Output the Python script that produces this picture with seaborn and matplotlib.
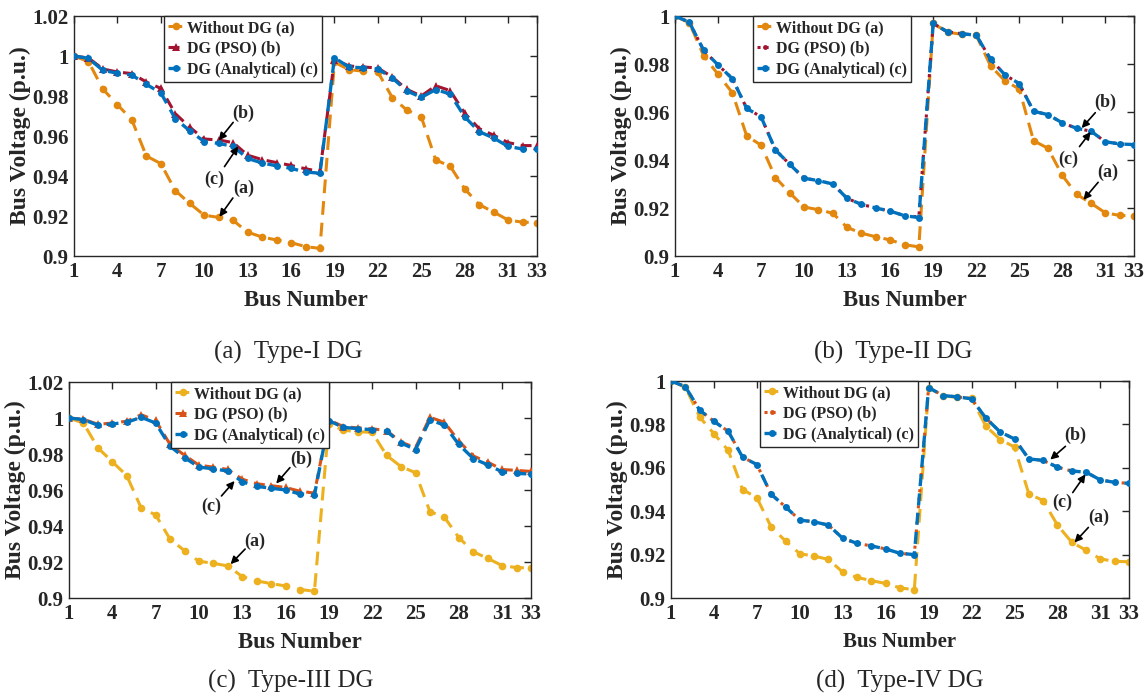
import matplotlib
matplotlib.use("Agg")
import matplotlib.pyplot as plt
import numpy as np
import pandas as pd
import seaborn as sns
from matplotlib.ticker import FuncFormatter

# ---------------------------------------------------------------- data
bus = list(range(1, 34))

v_base = [1.0000, 0.9972, 0.9834, 0.9757, 0.9680, 0.9500, 0.9462, 0.9327, 0.9263, 0.9204,
          0.9193, 0.9178, 0.9119, 0.9095, 0.9080, 0.9067, 0.9047, 0.9038, 0.9969, 0.9932,
          0.9924, 0.9920, 0.9792, 0.9730, 0.9696, 0.9480, 0.9449, 0.9336, 0.9257, 0.9220,
          0.9180, 0.9169, 0.9167]

# Type-I DG
v1_pso = [1.0000, 0.9990, 0.9935, 0.9920, 0.9912, 0.9870, 0.9838, 0.9712, 0.9644, 0.9585,
          0.9580, 0.9567, 0.9504, 0.9482, 0.9467, 0.9453, 0.9436, 0.9423, 0.9982, 0.9950,
          0.9945, 0.9940, 0.9895, 0.9833, 0.9800, 0.9851, 0.9827, 0.9714, 0.9637, 0.9604,
          0.9567, 0.9552, 0.9552]
v1_ana = [1.0000, 0.9988, 0.9928, 0.9914, 0.9905, 0.9858, 0.9816, 0.9687, 0.9626, 0.9572,
          0.9563, 0.9548, 0.9488, 0.9465, 0.9451, 0.9438, 0.9420, 0.9414, 0.9991, 0.9945,
          0.9941, 0.9935, 0.9890, 0.9826, 0.9793, 0.9832, 0.9810, 0.9696, 0.9622, 0.9590,
          0.9548, 0.9535, 0.9535]

# Type-II DG
v2_pso = [1.0000, 0.9974, 0.9857, 0.9796, 0.9739, 0.9615, 0.9580, 0.9442, 0.9382, 0.9324,
          0.9314, 0.9300, 0.9240, 0.9215, 0.9200, 0.9187, 0.9168, 0.9163, 0.9969, 0.9934,
          0.9926, 0.9920, 0.9820, 0.9755, 0.9718, 0.9603, 0.9589, 0.9555, 0.9532, 0.9520,
          0.9476, 0.9467, 0.9464]
v2_ana = [1.0000, 0.9974, 0.9857, 0.9796, 0.9739, 0.9615, 0.9580, 0.9442, 0.9382, 0.9324,
          0.9314, 0.9300, 0.9240, 0.9215, 0.9200, 0.9187, 0.9168, 0.9160, 0.9969, 0.9934,
          0.9926, 0.9920, 0.9820, 0.9755, 0.9718, 0.9603, 0.9589, 0.9555, 0.9532, 0.9520,
          0.9476, 0.9467, 0.9464]

# Type-III DG
v3_pso = [1.0000, 0.9993, 0.9965, 0.9972, 0.9982, 1.0018, 0.9987, 0.9853, 0.9793, 0.9738,
          0.9727, 0.9714, 0.9660, 0.9635, 0.9624, 0.9614, 0.9593, 0.9583, 0.9990, 0.9952,
          0.9945, 0.9940, 0.9930, 0.9866, 0.9835, 1.0004, 0.9976, 0.9872, 0.9789, 0.9755,
          0.9714, 0.9709, 0.9703]
v3_ana = [1.0000, 0.9991, 0.9960, 0.9967, 0.9976, 1.0004, 0.9972, 0.9843, 0.9780, 0.9727,
          0.9718, 0.9705, 0.9646, 0.9620, 0.9610, 0.9600, 0.9578, 0.9572, 0.9985, 0.9948,
          0.9941, 0.9935, 0.9926, 0.9861, 0.9825, 0.9990, 0.9960, 0.9853, 0.9775, 0.9740,
          0.9701, 0.9692, 0.9689]

# Type-IV DG
v4_pso = [1.0000, 0.9974, 0.9866, 0.9814, 0.9768, 0.9649, 0.9615, 0.9478, 0.9420, 0.9359,
          0.9351, 0.9336, 0.9275, 0.9252, 0.9240, 0.9226, 0.9206, 0.9200, 0.9970, 0.9933,
          0.9927, 0.9918, 0.9829, 0.9765, 0.9733, 0.9641, 0.9634, 0.9603, 0.9585, 0.9580,
          0.9544, 0.9533, 0.9528]
v4_ana = [1.0000, 0.9974, 0.9866, 0.9814, 0.9768, 0.9649, 0.9615, 0.9478, 0.9420, 0.9359,
          0.9351, 0.9336, 0.9275, 0.9252, 0.9240, 0.9226, 0.9206, 0.9200, 0.9970, 0.9933,
          0.9927, 0.9918, 0.9829, 0.9765, 0.9733, 0.9641, 0.9634, 0.9603, 0.9585, 0.9580,
          0.9544, 0.9533, 0.9528]

series_labels = ["Without DG (a)", "DG (PSO) (b)", "DG (Analytical) (c)"]
captions = ["(a)  Type-I DG", "(b)  Type-II DG", "(c)  Type-III DG", "(d)  Type-IV DG"]
x_ticks = [1, 4, 7, 10, 13, 16, 19, 22, 25, 28, 31, 33]

# ---------------------------------------------------------------- style
sns.set_theme(style="white")
plt.rcParams["font.family"] = ["Liberation Serif", "DejaVu Serif"]

ORANGE = "#E3880F"
DARKRED = "#A2142F"
YELLOW = "#EDB120"
REDORANGE = "#D95319"
BLUE = "#0072BD"

DASH_BASE = (0, (4.5, 2.6))
DASH_DG = (0, (3.6, 2.2))

fig = plt.figure(figsize=(11.44, 6.97), dpi=100)

W, H = 1144, 697


def px_axes(l, r, t, b):
    return fig.add_axes([l / W, 1 - b / H, (r - l) / W, (b - t) / H])


panels = [
    dict(box=(74, 537, 16, 256), ylim=(0.9, 1.02), base=v_base, pso=v1_pso, ana=v1_ana,
         c_base=ORANGE, c_pso=DARKRED, pso_ls=DASH_DG, pso_mk="^", leg=(0.195, 1.0),
         ann=[("(b)", (12.7, 0.9712), (12.0, 0.9668), (11.0, 0.9578)),
              ("(c)", (10.7, 0.9382), (11.4, 0.9447), (12.35, 0.9548)),
              ("(a)", (12.75, 0.9336), (11.98, 0.9290), (11.05, 0.9196))],
         xl_size=16.5, cap=(288, 352)),
    dict(box=(675, 1134, 16, 256), ylim=(0.9, 1.0), base=v_base, pso=v2_pso, ana=v2_ana,
         c_base=ORANGE, c_pso=DARKRED, pso_ls=":", pso_mk=".", leg=(0.170, 1.0),
         ann=[("(b)", (31.0, 0.9640), (30.3, 0.9597), (29.35, 0.9533)),
              ("(c)", (28.45, 0.9402), (29.2, 0.9456), (29.98, 0.9517)),
              ("(a)", (31.2, 0.9348), (30.5, 0.9307), (29.47, 0.9234))],
         xl_size=16.5, cap=(893, 352)),
    dict(box=(69, 531, 382, 598), ylim=(0.9, 1.02), base=v_base, pso=v3_pso, ana=v3_ana,
         c_base=YELLOW, c_pso=REDORANGE, pso_ls=DASH_DG, pso_mk="^", leg=(0.220, 1.0),
         ann=[("(b)", (17.08, 0.9770), (16.3, 0.9724), (15.35, 0.9636)),
              ("(c)", (10.87, 0.9508), (11.56, 0.9567), (12.47, 0.9650)),
              ("(a)", (13.9, 0.9312), (13.2, 0.9272), (12.19, 0.9188))],
         xl_size=16.5, cap=(291, 681)),
    dict(box=(671, 1129, 381, 598), ylim=(0.9, 1.0), base=v_base, pso=v4_pso, ana=v4_ana,
         c_base=YELLOW, c_pso=REDORANGE, pso_ls=":", pso_mk=".", leg=(0.195, 1.0),
         ann=[("(b)", (29.27, 0.9750), (28.56, 0.9699), (27.5, 0.9638)),
              ("(c)", (28.35, 0.9440), (29.07, 0.9486), (29.96, 0.9570)),
              ("(a)", (30.9, 0.9371), (30.16, 0.9325), (29.19, 0.9256))],
         xl_size=15, cap=(900, 681)),
]

fmt = FuncFormatter(lambda v, _: f"{v:g}")

for p, caption in zip(panels, captions):
    ax = px_axes(*p["box"])
    df = pd.DataFrame({"bus": bus, "base": p["base"], "pso": p["pso"], "ana": p["ana"]})

    sns.lineplot(data=df, x="bus", y="base", ax=ax, color=p["c_base"], linestyle=DASH_BASE,
                 linewidth=2.2, marker=".", markersize=11, markeredgewidth=0,
                 label=series_labels[0], zorder=2)
    sns.lineplot(data=df, x="bus", y="pso", ax=ax, color=p["c_pso"], linestyle=p["pso_ls"],
                 linewidth=2.2, marker=p["pso_mk"],
                 markersize=6 if p["pso_mk"] == "^" else 7, markeredgewidth=0,
                 label=series_labels[1], zorder=3)
    sns.lineplot(data=df, x="bus", y="ana", ax=ax, color=BLUE, linestyle=DASH_DG,
                 linewidth=2.4, marker="o", markersize=5, markeredgewidth=0,
                 label=series_labels[2], zorder=4)

    ax.set_xlim(1, 33)
    ax.set_ylim(*p["ylim"])
    ax.set_xticks(x_ticks)
    lo, hi = p["ylim"]
    ax.set_yticks(np.round(np.arange(lo, hi + 1e-9, 0.02), 2))
    ax.yaxis.set_major_formatter(fmt)
    ax.tick_params(direction="in", top=True, right=True, length=5, width=1,
                   colors="#262626", labelsize=15, pad=4)
    for lab in ax.get_xticklabels() + ax.get_yticklabels():
        lab.set_fontweight("bold")
    for sp in ax.spines.values():
        sp.set_visible(True)
        sp.set_color("#262626")
        sp.set_linewidth(1.0)

    ax.set_xlabel("Bus Number", fontsize=p["xl_size"], fontweight="bold", labelpad=6)
    ax.set_ylabel("Bus Voltage (p.u.)", fontsize=17, fontweight="bold", labelpad=1)

    leg = ax.legend(loc="upper left", bbox_to_anchor=p["leg"], borderaxespad=0,
                    prop={"size": 11.5, "weight": "bold"}, frameon=True, fancybox=False,
                    framealpha=1, edgecolor="#262626", handlelength=1.0,
                    handletextpad=0.2, labelspacing=0.3, borderpad=0.25)
    leg.get_frame().set_linewidth(1.0)

    for text, txy, tail, head in p["ann"]:
        ax.annotate("", xy=head, xytext=tail,
                    arrowprops=dict(arrowstyle="-|>", color="black", lw=1.2,
                                    mutation_scale=11, shrinkA=0, shrinkB=0),
                    zorder=6)
        ax.text(*txy, text, fontsize=13, fontweight="bold", ha="center", va="center",
                zorder=6)

    fig.text(p["cap"][0] / W, 1 - p["cap"][1] / H, caption, fontsize=18,
             ha="center", va="center")

fig.savefig("out.png", dpi=100)
